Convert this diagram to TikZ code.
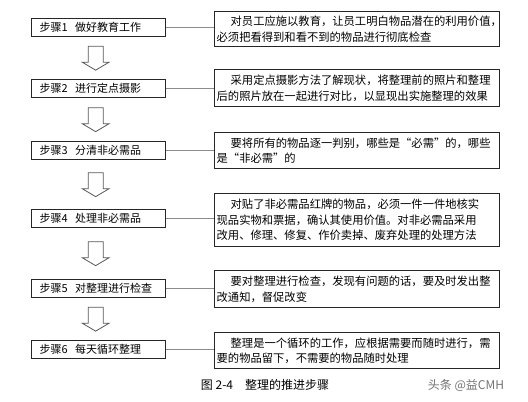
\documentclass[tikz,border=0pt]{standalone}
\usepackage{fontspec}
\newfontfamily\cjk{Noto Sans CJK SC}
\usetikzlibrary{calc}
\begin{document}
\begin{tikzpicture}[x=1pt,y=-1pt,
  font=\cjk\fontsize{11}{16}\selectfont,
  stepbox/.style={draw=black!85, line width=1.3pt, anchor=north west, text width=118pt, inner xsep=8pt, inner ysep=0pt, minimum height=18pt, align=left},
  descbox/.style={draw=black!85, line width=1.3pt, anchor=north west, text width=281pt, inner xsep=2pt, inner ysep=0pt, align=left, font=\cjk\fontsize{11.3}{15.5}\selectfont},
  link/.style={draw=black!45, line width=0.9pt},
  pics/downarr/.style={code={\draw[line width=0.8pt, draw=black!65, fill=white] (-7.5,-12) -- (7.5,-12) -- (7.5,4) -- (13.5,4) -- (0,12) -- (-13.5,4) -- (-7.5,4) -- cycle;}}
]
\useasboundingbox[fill=white] (0,0) rectangle (528,402);

\node[stepbox] (l1) at (31,18) {步骤1\ \ 做好教育工作};
\node[stepbox] (l2) at (31,79) {步骤2\ \ 进行定点摄影};
\node[stepbox] (l3) at (31,141) {步骤3\ \ 分清非必需品};
\node[stepbox] (l4) at (31,209) {步骤4\ \ 处理非必需品};
\node[stepbox] (l5) at (31,279) {步骤5\ \ 对整理进行检查};
\node[stepbox] (l6) at (31,340) {步骤6\ \ 每天循环整理};

\node[descbox, minimum height=35pt] (r1) at (214,11) {\hspace*{14pt}对员工应施以教育，让员工明白物品潜在的利用价值，\\必须把看得到和看不到的物品进行彻底检查};
\node[descbox, minimum height=37pt] (r2) at (214,69) {\hspace*{14pt}采用定点摄影方法了解现状，将整理前的照片和整理\\后的照片放在一起进行对比，以显现出实施整理的效果};
\node[descbox, minimum height=36pt] (r3) at (214,132) {\hspace*{14pt}要将所有的物品逐一判别，哪些是“必需”的，哪些\\是“非必需”的};
\node[descbox, minimum height=53pt] (r4) at (214,193) {\hspace*{14pt}对贴了非必需品红牌的物品，必须一件一件地核实\\现品实物和票据，确认其使用价值。对非必需品采用\\改用、修理、修复、作价卖掉、废弃处理的处理方法};
\node[descbox, minimum height=37pt] (r5) at (214,270) {\hspace*{14pt}要对整理进行检查，发现有问题的话，要及时发出整\\改通知，督促改变};
\node[descbox, minimum height=36pt] (r6) at (214,332) {\hspace*{14pt}整理是一个循环的工作，应根据需要而随时进行，需\\要的物品留下，不需要的物品随时处理};

\foreach \i in {1,...,6}{
  \draw[link] (l\i.east) -- (l\i.east -| r\i.west);
}

\pic at ($(l1.south)!0.5!(l2.north)+(-3,0)$) {downarr};
\pic at ($(l2.south)!0.5!(l3.north)+(-3,0)$) {downarr};
\pic at ($(l3.south)!0.5!(l4.north)+(-3,0)$) {downarr};
\pic at ($(l4.south)!0.5!(l5.north)+(-3,0)$) {downarr};
\pic at ($(l5.south)!0.5!(l6.north)+(-3,0)$) {downarr};

\node[font=\cjk\fontsize{12}{14}\selectfont] (cap) at (265,385) {图 2-4\quad 整理的推进步骤};
\node[font=\cjk\fontsize{12}{14}\selectfont, text=black!55] (wm) at (466,385) {头条 @益CMH};
\end{tikzpicture}
\end{document}
